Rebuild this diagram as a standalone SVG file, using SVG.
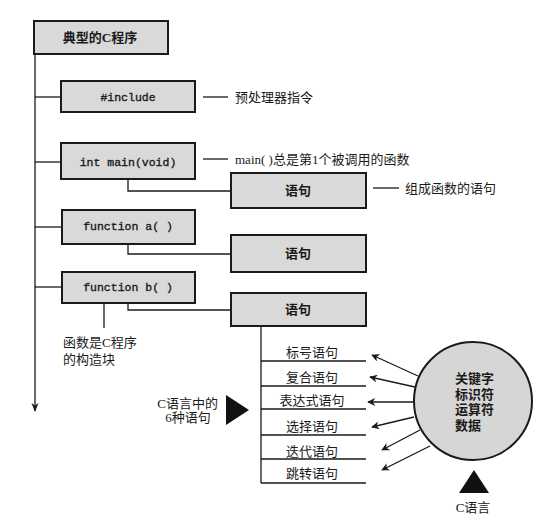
<svg xmlns="http://www.w3.org/2000/svg" width="546" height="526" viewBox="0 0 546 526">
<style>
.box{fill:#d9d9d9;stroke:#1a1a1a;stroke-width:2}
.ln{stroke:#1a1a1a;stroke-width:1.3;fill:none}
.code{font-family:"Liberation Mono","DejaVu Sans Mono",monospace;font-size:11.5px;fill:#1a1a1a;stroke:#1a1a1a;stroke-width:0.35;text-anchor:middle}
.bt{font-family:"Liberation Serif","Noto Sans CJK SC",serif;font-size:13px;font-weight:bold;fill:#1a1a1a;text-anchor:middle}
.lb{font-family:"Liberation Serif","Noto Sans CJK SC",serif;font-size:13px;fill:#1a1a1a}
.lbm{font-family:"Liberation Serif","Noto Sans CJK SC",serif;font-size:13px;fill:#1a1a1a;text-anchor:middle}
</style>
<defs>
<marker id="ah" viewBox="0 0 10 10" refX="9" refY="5" markerWidth="8" markerHeight="8" markerUnits="userSpaceOnUse" orient="auto">
<path d="M0,0 L10,5 L0,10 L3,5 Z" fill="#1a1a1a"/>
</marker>
<marker id="ahm" viewBox="0 0 10 10" refX="9" refY="5" markerWidth="9" markerHeight="9" markerUnits="userSpaceOnUse" orient="auto">
<path d="M0,1 L10,5 L0,9 L3,5 Z" fill="#1a1a1a"/>
</marker>
</defs>
<rect width="546" height="526" fill="#ffffff"/>
<g id="connectors">
<line class="ln" x1="35" y1="54" x2="35" y2="411" marker-end="url(#ahm)"/>
<line class="ln" x1="35" y1="97" x2="61" y2="97"/>
<line class="ln" x1="35" y1="162" x2="61" y2="162"/>
<line class="ln" x1="35" y1="227" x2="62" y2="227"/>
<line class="ln" x1="35" y1="287" x2="62" y2="287"/>
<polyline class="ln" points="128,179 128,191 231,191"/>
<polyline class="ln" points="128,244 128,254 231,254"/>
<polyline class="ln" points="128,303 128,310 231,310"/>
<line class="ln" x1="104" y1="303" x2="104" y2="328"/>
<line class="ln" x1="203" y1="97" x2="228" y2="97"/>
<line class="ln" x1="203" y1="159" x2="228" y2="159"/>
<line class="ln" x1="373" y1="188" x2="399" y2="188"/>
<line class="ln" x1="261" y1="326" x2="261" y2="483"/>
<line class="ln" x1="261" y1="361" x2="366" y2="361"/>
<line class="ln" x1="261" y1="386" x2="366" y2="386"/>
<line class="ln" x1="261" y1="409" x2="366" y2="409"/>
<line class="ln" x1="261" y1="435" x2="366" y2="435"/>
<line class="ln" x1="261" y1="459" x2="366" y2="459"/>
<line class="ln" x1="261" y1="483" x2="366" y2="483"/>
<line class="ln" x1="418" y1="376" x2="372" y2="355" marker-end="url(#ah)"/>
<line class="ln" x1="415" y1="387" x2="370" y2="377" marker-end="url(#ah)"/>
<line class="ln" x1="413" y1="402" x2="368" y2="402" marker-end="url(#ah)"/>
<line class="ln" x1="414" y1="417" x2="372" y2="427" marker-end="url(#ah)"/>
<line class="ln" x1="420" y1="430" x2="382" y2="450" marker-end="url(#ah)"/>
<line class="ln" x1="430" y1="446" x2="382" y2="470" marker-end="url(#ah)"/>
</g>
<g id="n-program">
<rect class="box" x="34" y="21" width="134" height="33"/>
<text class="bt" x="100" y="42">典型的C程序</text>
</g>
<g id="n-include">
<rect class="box" x="61" y="81" width="134" height="31"/>
<text class="code" x="128" y="101">#include</text>
</g>
<g id="n-main">
<rect class="box" x="61" y="143" width="134" height="36"/>
<text class="code" x="128" y="166">int main(void)</text>
</g>
<g id="n-funca">
<rect class="box" x="62" y="210" width="133" height="34"/>
<text class="code" x="128" y="230">function a( )</text>
</g>
<g id="n-funcb">
<rect class="box" x="62" y="272" width="133" height="31"/>
<text class="code" x="128" y="291">function b( )</text>
</g>
<g id="n-stmt1">
<rect class="box" x="231" y="173" width="135" height="35"/>
<text class="bt" x="298" y="195">语句</text>
</g>
<g id="n-stmt2">
<rect class="box" x="231" y="235" width="135" height="37"/>
<text class="bt" x="298" y="258">语句</text>
</g>
<g id="n-stmt3">
<rect class="box" x="231" y="293" width="135" height="33"/>
<text class="bt" x="298" y="314">语句</text>
</g>
<g id="labels">
<text class="lb" x="235" y="102">预处理器指令</text>
<text class="lb" x="235" y="164">main( )总是第1个被调用的函数</text>
<text class="lb" x="405" y="193">组成函数的语句</text>
<text class="lb" x="63" y="347">函数是C程序</text>
<text class="lb" x="63" y="364">的构造块</text>
<text class="lbm" x="312" y="357">标号语句</text>
<text class="lbm" x="312" y="382">复合语句</text>
<text class="lbm" x="312" y="405">表达式语句</text>
<text class="lbm" x="312" y="431">选择语句</text>
<text class="lbm" x="312" y="456">迭代语句</text>
<text class="lbm" x="312" y="478">跳转语句</text>
</g>
<g id="n-six">
<text class="lb" x="218" y="408" text-anchor="end">C语言中的</text>
<text class="lbm" x="188" y="422">6种语句</text>
<polygon points="226,395 249,410 226,425" fill="#111"/>
</g>
<g id="n-clang">
<circle cx="473" cy="401" r="59" fill="#d6d6d6" stroke="#1a1a1a" stroke-width="2"/>
<text class="lb" font-weight="bold" x="455" y="383">关键字</text>
<text class="lb" font-weight="bold" x="455" y="399">标识符</text>
<text class="lb" font-weight="bold" x="455" y="414">运算符</text>
<text class="lb" font-weight="bold" x="455" y="430">数据</text>
</g>
<g id="n-clang-label">
<polygon points="474,470 489,493 459,493" fill="#111"/>
<text class="lbm" x="473" y="512">C语言</text>
</g>
</svg>
